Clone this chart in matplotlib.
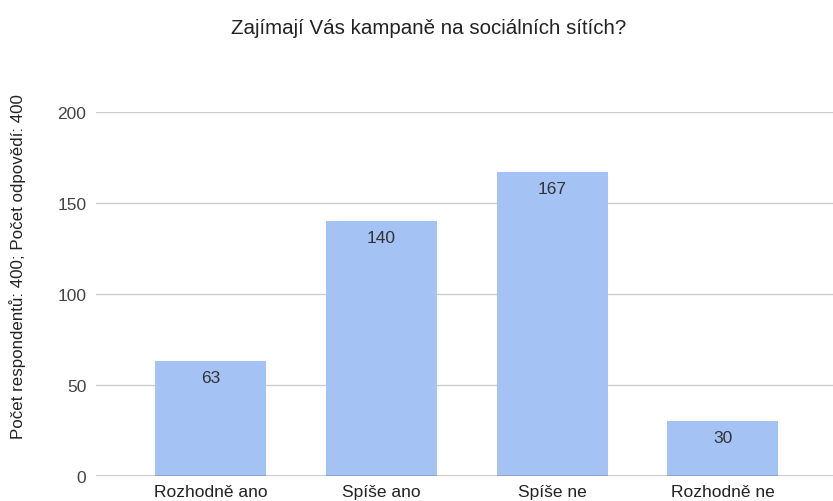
import numpy as np
import matplotlib
matplotlib.use("Agg")
import matplotlib.pyplot as plt

plt.rcParams['font.family'] = ['Liberation Sans', 'DejaVu Sans']

### DATA
categories = ['Rozhodně ano', 'Spíše ano', 'Spíše ne', 'Rozhodně ne']
counts = [63, 140, 167, 30]
yticks = [0, 50, 100, 150, 200]

title = 'Zajímají Vás kampaně na sociálních sítích?'
ylabel = 'Počet respondentů: 400; Počet odpovědí: 400'

### FIGURE
fig = plt.figure(figsize=(8.33, 5.02), dpi=100)
ax = fig.add_axes([96 / 833, 1 - 477 / 502, 1 - 96 / 833, (477 - 113) / 502])

x = np.arange(len(categories))
bars = ax.bar(x, counts, width=0.65, color='#a4c2f4', zorder=3)

# value labels just inside the top of each bar
for xi, v in zip(x, counts):
    ax.annotate(str(v), (xi, v), xytext=(0, -6.5), textcoords='offset points',
                ha='center', va='top', fontsize=12.5, color='#333333', zorder=4)

ax.set_xlim(-0.67, 3.645)
ax.set_ylim(0, 200)
ax.set_yticks(yticks)
ax.set_xticks(x)
ax.set_xticklabels(categories)

ax.grid(axis='y', color='#cccccc', linewidth=1, zorder=0)
ax.axhline(0, color='#333333', linewidth=1, zorder=5)
for s in ax.spines.values():
    s.set_visible(False)
ax.tick_params(axis='both', length=0, labelsize=12.5, labelcolor='#444444')
ax.tick_params(axis='x', pad=6, labelcolor='#222222')
ax.tick_params(axis='y', pad=7)

fig.text(429 / 833, 1 - 28 / 502, title, ha='center', va='center',
         fontsize=14.8, color='#222222')
fig.text(18 / 833, 1 - 267 / 502, ylabel, ha='center', va='center',
         rotation=90, fontsize=12.2, color='#222222')

fig.savefig('out.png', dpi=100)
